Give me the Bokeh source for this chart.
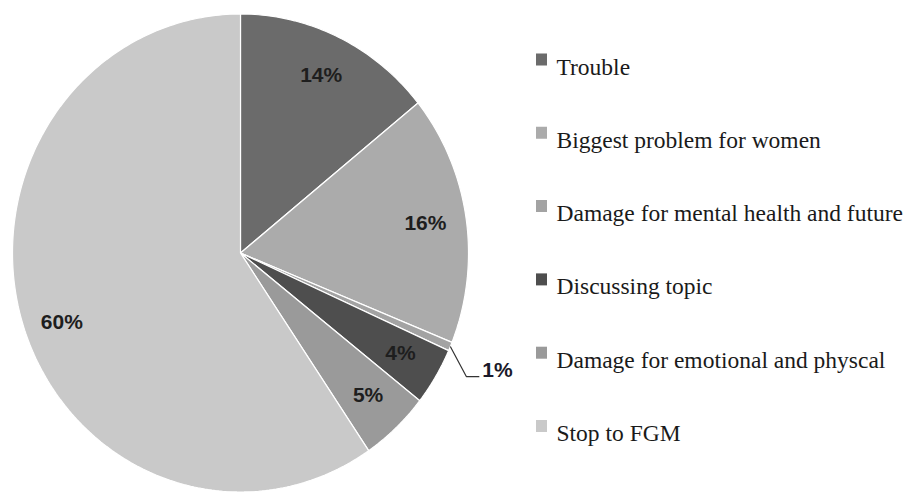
import math
from bokeh.plotting import figure
from bokeh.models import Range1d
from bokeh.core.properties import value
from bokeh.embed import file_html
from bokeh.resources import INLINE

# ---- data ----
categories = ["Trouble", "Biggest problem for women", "Damage for mental health and future",
              "Discussing topic", "Damage for emotional and physcal", "Stop to FGM"]
values = [14.2, 16.9, 0.6, 3.9, 4.9, 59.5]
pct_labels = ["14%", "16%", "1%", "4%", "5%", "60%"]
colors = ["#6b6b6b", "#ababab", "#a3a3a3", "#4e4e4e", "#9a9a9a", "#c9c9c9"]

# ---- layout / style ----
W, H = 909, 494
cx, cy = 240, 252.5
rx, ry = 228, 239
label_frac = 0.82

p = figure(width=W, height=H, x_range=Range1d(0, W), y_range=Range1d(H, 0),
           output_backend="svg", toolbar_location=None, min_border=0)
p.axis.visible = False
p.grid.visible = False
p.outline_line_color = None
p.background_fill_color = "white"
p.border_fill_color = "white"

def pt(theta_frac, f=1.0):
    t = theta_frac * 2 * math.pi
    return cx + f * rx * math.sin(t), cy - f * ry * math.cos(t)

total = sum(values)
xs, ys, mids = [], [], []
cum = 0.0
for v in values:
    a0 = cum / total
    a1 = (cum + v) / total
    n = max(3, int((a1 - a0) * 400))
    px, py = [cx], [cy]
    for i in range(n + 1):
        x, y = pt(a0 + (a1 - a0) * i / n)
        px.append(x); py.append(y)
    xs.append(px); ys.append(py)
    mids.append((a0 + a1) / 2)
    cum += v

p.patches(xs=xs, ys=ys, fill_color=colors, line_color="white", line_width=1.2)

# slice labels
lx, ly, lt = [], [], []
for i, (m, lab) in enumerate(zip(mids, pct_labels)):
    if values[i] < 2:
        continue
    x, y = pt(m, label_frac)
    if lab == "60%":
        y += 13
    lx.append(x); ly.append(y - 2); lt.append(lab)
p.text(x=lx, y=ly, text=lt, text_font=value("Liberation Sans"), text_font_style="bold",
       text_font_size="21px", text_align="center", text_baseline="middle", text_color="#1e1e1e")

# leader for small slice
for i, (m, lab) in enumerate(zip(mids, pct_labels)):
    if values[i] >= 2:
        continue
    sx, sy = pt(m, 1.0)
    ex, ey = sx + 16, sy + 30
    p.line(x=[sx, ex, ex + 13], y=[sy, ey, ey], line_color="#333333", line_width=1.2)
    p.text(x=[ex + 16], y=[ey - 7], text=[lab], text_font=value("Liberation Sans"),
           text_font_style="bold", text_font_size="21px", text_align="left",
           text_baseline="middle", text_color="#1a1a2a")

# legend
leg_x_sq = 541
leg_x_txt = 556
leg_y0 = 66
leg_dy = 73.3
base_y = [leg_y0 + i * leg_dy for i in range(len(categories))]
p.rect(x=[leg_x_sq] * len(categories), y=[b - 7 for b in base_y], width=11, height=12,
       fill_color=colors, line_color=None)
p.text(x=[leg_x_txt] * len(categories), y=base_y, text=categories,
       text_font=value("Liberation Serif"), text_font_size="23.5px",
       text_align="left", text_baseline="alphabetic", text_color="#1a1a1a")

open("out.html", "w").write(file_html(p, INLINE))
